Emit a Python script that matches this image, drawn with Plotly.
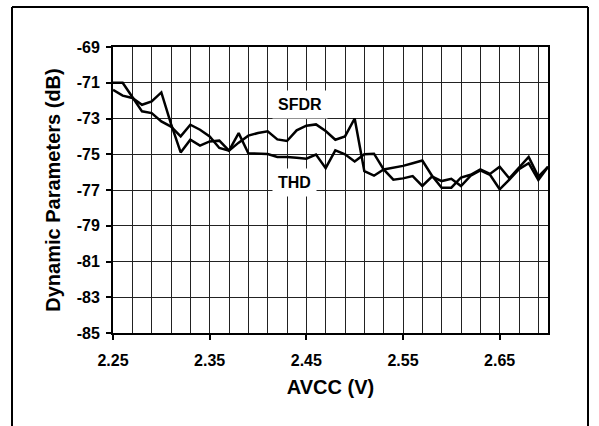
import plotly.graph_objects as go

# ---- data ----
avcc = [2.25, 2.26, 2.27, 2.28, 2.29, 2.30, 2.31, 2.32, 2.33, 2.34,
        2.35, 2.36, 2.37, 2.38, 2.39, 2.40, 2.41, 2.42, 2.43, 2.44,
        2.45, 2.46, 2.47, 2.48, 2.49, 2.50, 2.51, 2.52, 2.53, 2.54,
        2.55, 2.56, 2.57, 2.58, 2.59, 2.60, 2.61, 2.62, 2.63, 2.64,
        2.65, 2.66, 2.67, 2.68, 2.69, 2.70]

sfdr = [-71.0, -71.0, -71.8, -72.6, -72.7, -73.16, -73.45, -74.0, -73.35, -73.63,
        -74.0, -74.65, -74.8, -74.35, -73.96, -73.81, -73.72, -74.17, -74.26, -73.66,
        -73.4, -73.33, -73.7, -74.19, -74.0, -73.0, -75.95, -76.2, -75.85, -75.75,
        -75.65, -75.5, -75.35, -76.2, -76.87, -76.87, -76.3, -76.15, -75.85, -76.1,
        -75.7, -76.35, -75.75, -75.15, -76.25, -75.7]

thd = [-71.4, -71.72, -71.85, -72.23, -72.04, -71.54, -73.3, -74.9, -74.19, -74.52,
       -74.28, -74.24, -74.8, -73.82, -74.94, -74.96, -74.99, -75.15, -75.15, -75.2,
       -75.25, -75.02, -75.78, -74.78, -75.0, -75.4, -75.0, -74.97, -75.85, -76.42,
       -76.35, -76.22, -76.77, -76.25, -76.5, -76.37, -76.78, -76.2, -75.9, -76.15,
       -76.96, -76.42, -75.84, -75.5, -76.44, -75.7]

x_tick_vals = [2.25, 2.35, 2.45, 2.55, 2.65]
x_tick_text = ["2.25", "2.35", "2.45", "2.55", "2.65"]
y_tick_vals = [-69, -71, -73, -75, -77, -79, -81, -83, -85]
y_tick_text = ["-69", "-71", "-73", "-75", "-77", "-79", "-81", "-83", "-85"]

labels = ["SFDR", "THD"]
label_x = [2.443, 2.4376]
label_y = [-72.23, -76.56]

# ---- layout geometry ----
W, H = 599, 426
ML, MR, MT, MB = 113, 51, 47, 93
PW, PH = W - ML - MR, H - MT - MB

def px_to_paper_x(px):
    return (px - ML) / PW

def px_to_paper_y(py):
    return (H - MB - py) / PH

FONT = "Liberation Sans"

fig = go.Figure()
for name, ys in (("SFDR", sfdr), ("THD", thd)):
    fig.add_trace(go.Scatter(x=avcc, y=ys, mode="lines", name=name,
                             line=dict(color="black", width=2.5),
                             showlegend=False))

for t, lx, ly in zip(labels, label_x, label_y):
    fig.add_annotation(x=lx, y=ly, xref="x", yref="y", text=t, showarrow=False,
                       font=dict(family=FONT, size=16, color="black", weight="bold"),
                       bgcolor="white", borderpad=5)

# outer frame (left, top, right edges)
fl, fr = px_to_paper_x(12), px_to_paper_x(588)
ft, fb = px_to_paper_y(7), px_to_paper_y(440)
for x0, y0, x1, y1 in ((fl, fb, fl, ft), (fl, ft, fr, ft), (fr, ft, fr, fb)):
    fig.add_shape(type="line", xref="paper", yref="paper", x0=x0, y0=y0, x1=x1, y1=y1,
                  line=dict(color="black", width=2))

fig.update_layout(
    width=W, height=H,
    margin=dict(l=ML, r=MR, t=MT, b=MB, pad=0),
    paper_bgcolor="white", plot_bgcolor="white",
    font=dict(family=FONT, color="black"),
)

fig.update_xaxes(
    range=[2.25, 2.70], tickmode="array", tickvals=x_tick_vals, ticktext=x_tick_text,
    ticks="outside", ticklen=5, tickwidth=1.5, tickcolor="black",
    showgrid=True, gridcolor="#222", gridwidth=1,
    minor=dict(tick0=2.25, dtick=0.02, showgrid=True, gridcolor="#222", gridwidth=1, ticks=""),
    showline=True, linecolor="black", linewidth=2, mirror=True,
    tickfont=dict(family=FONT, size=16, color="black", weight="bold"),
    ticklabelstandoff=7,
    zeroline=False,
    title=dict(text="AVCC (V)", standoff=12,
               font=dict(family=FONT, size=20, color="black", weight="bold")),
)

fig.update_yaxes(
    range=[-85, -69], tickmode="array", tickvals=y_tick_vals, ticktext=y_tick_text,
    ticks="outside", ticklen=5, tickwidth=1.5, tickcolor="black",
    showgrid=True, gridcolor="#222", gridwidth=1,
    showline=True, linecolor="black", linewidth=2, mirror=True,
    tickfont=dict(family=FONT, size=16, color="black", weight="bold"),
    ticklabelstandoff=3,
    zeroline=False,
    title=dict(text="Dynamic Parameters (dB)", standoff=11,
               font=dict(family=FONT, size=20, color="black", weight="bold")),
)

fig.write_html("out.html")
